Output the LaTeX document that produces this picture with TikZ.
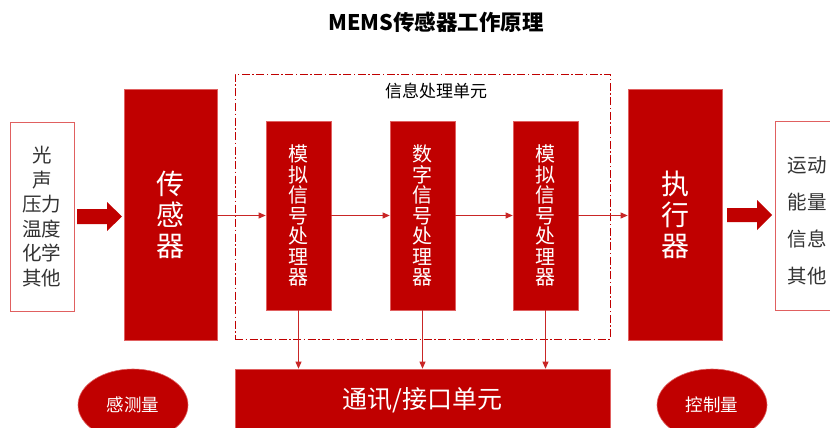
\documentclass[tikz,border=0pt]{standalone}
\usepackage{fontspec}
\setmainfont{Noto Sans CJK SC}
\usetikzlibrary{arrows.meta,shapes.geometric}
\definecolor{mred}{HTML}{C00000}
\definecolor{mredl}{HTML}{E06060}
\definecolor{mtext}{HTML}{333333}
\begin{document}
\begin{tikzpicture}[x=1pt,y=-1pt,
  redbox/.style={rectangle, fill=mred, draw=mredl, line width=0.6pt, inner sep=0pt, text=white, align=center},
  inbox/.style={rectangle, fill=white, draw=mredl, line width=1pt, inner sep=0pt, text=mtext, align=center},
  dashbox/.style={rectangle, draw=mred, line width=0.7pt, dash pattern=on 8pt off 2.5pt on 1.5pt off 2.5pt, inner sep=0pt},
  oval/.style={ellipse, fill=mred, draw=mredl, line width=0.6pt, inner sep=0pt, text=white, font=\fontsize{17.5}{19}\selectfont},
  conn/.style={draw=mred!85!white, line width=0.7pt, -{Triangle[length=7pt,width=6pt]}},
  fat/.style={fill=mred, draw=none},
  small/.style={font=\fontsize{20}{20.5}\selectfont},
  big/.style={font=\fontsize{28}{31}\selectfont}
]
\clip (0,0) rectangle (830,428);
\fill[white] (0,0) rectangle (830,428);

\node[font=\bfseries\fontsize{21.5}{23}\selectfont, text=black] (title) at (436,22) {MEMS传感器工作原理};

% source box
\node[inbox, minimum width=64, minimum height=189, font=\fontsize{19.5}{24.6}\selectfont] (src) at (42,216.5) {光\\声\\压力\\温度\\化学\\其他};

% sensor
\node[redbox, big, minimum width=93, minimum height=251] (sensor) at (170.5,214.5) {传\\感\\器};

% processing unit frame
\node[dashbox, minimum width=375, minimum height=265] (dsp) at (422.5,206.5) {};
\node[font=\fontsize{17}{19}\selectfont, text=black] (dsplabel) at (436,91) {信息处理单元};

% inner processors
\node[redbox, small, minimum width=65, minimum height=189] (p1) at (298.5,215.5) {模\\拟\\信\\号\\处\\理\\器};
\node[redbox, small, minimum width=65, minimum height=189] (p2) at (422.5,215.5) {数\\字\\信\\号\\处\\理\\器};
\node[redbox, small, minimum width=65, minimum height=189] (p3) at (545.5,215.5) {模\\拟\\信\\号\\处\\理\\器};

% executor
\node[redbox, big, minimum width=94, minimum height=251] (act) at (675,214.5) {执\\行\\器};

% output box
\node[inbox, minimum width=70, minimum height=189] (out) at (810,215.5) {};
\node[font=\fontsize{19.5}{37}\selectfont, text=mtext, align=center] (outtext) at (807,221) {运动\\能量\\信息\\其他};

% communication unit
\node[redbox, minimum width=375, minimum height=62, font=\fontsize{25}{27}\selectfont] (comm) at (422.5,400) {通讯/接口单元};

% ellipses
\node[oval, minimum width=110, minimum height=72] (sense) at (133,405) {感测量};
\node[oval, minimum width=110, minimum height=72] (ctrl) at (712,405) {控制量};

% fat arrows
\fill[fat] (77,209) -- (107,209) -- (107,202) -- (122,216.5) -- (107,231) -- (107,224) -- (77,224) -- cycle;
\fill[fat] (727,208) -- (757,208) -- (757,200) -- (772,215) -- (757,230) -- (757,222) -- (727,222) -- cycle;

% thin connectors
\draw[conn] (p1.west -| sensor.east) -- (p1.west);
\draw[conn] (p1.east) -- (p2.west);
\draw[conn] (p2.east) -- (p3.west);
\draw[conn] (p3.east) -- (p3.east -| act.west);
\draw[conn] (p1.south) -- (p1.south |- comm.north);
\draw[conn] (p2.south) -- (p2.south |- comm.north);
\draw[conn] (p3.south) -- (p3.south |- comm.north);
\end{tikzpicture}
\end{document}
